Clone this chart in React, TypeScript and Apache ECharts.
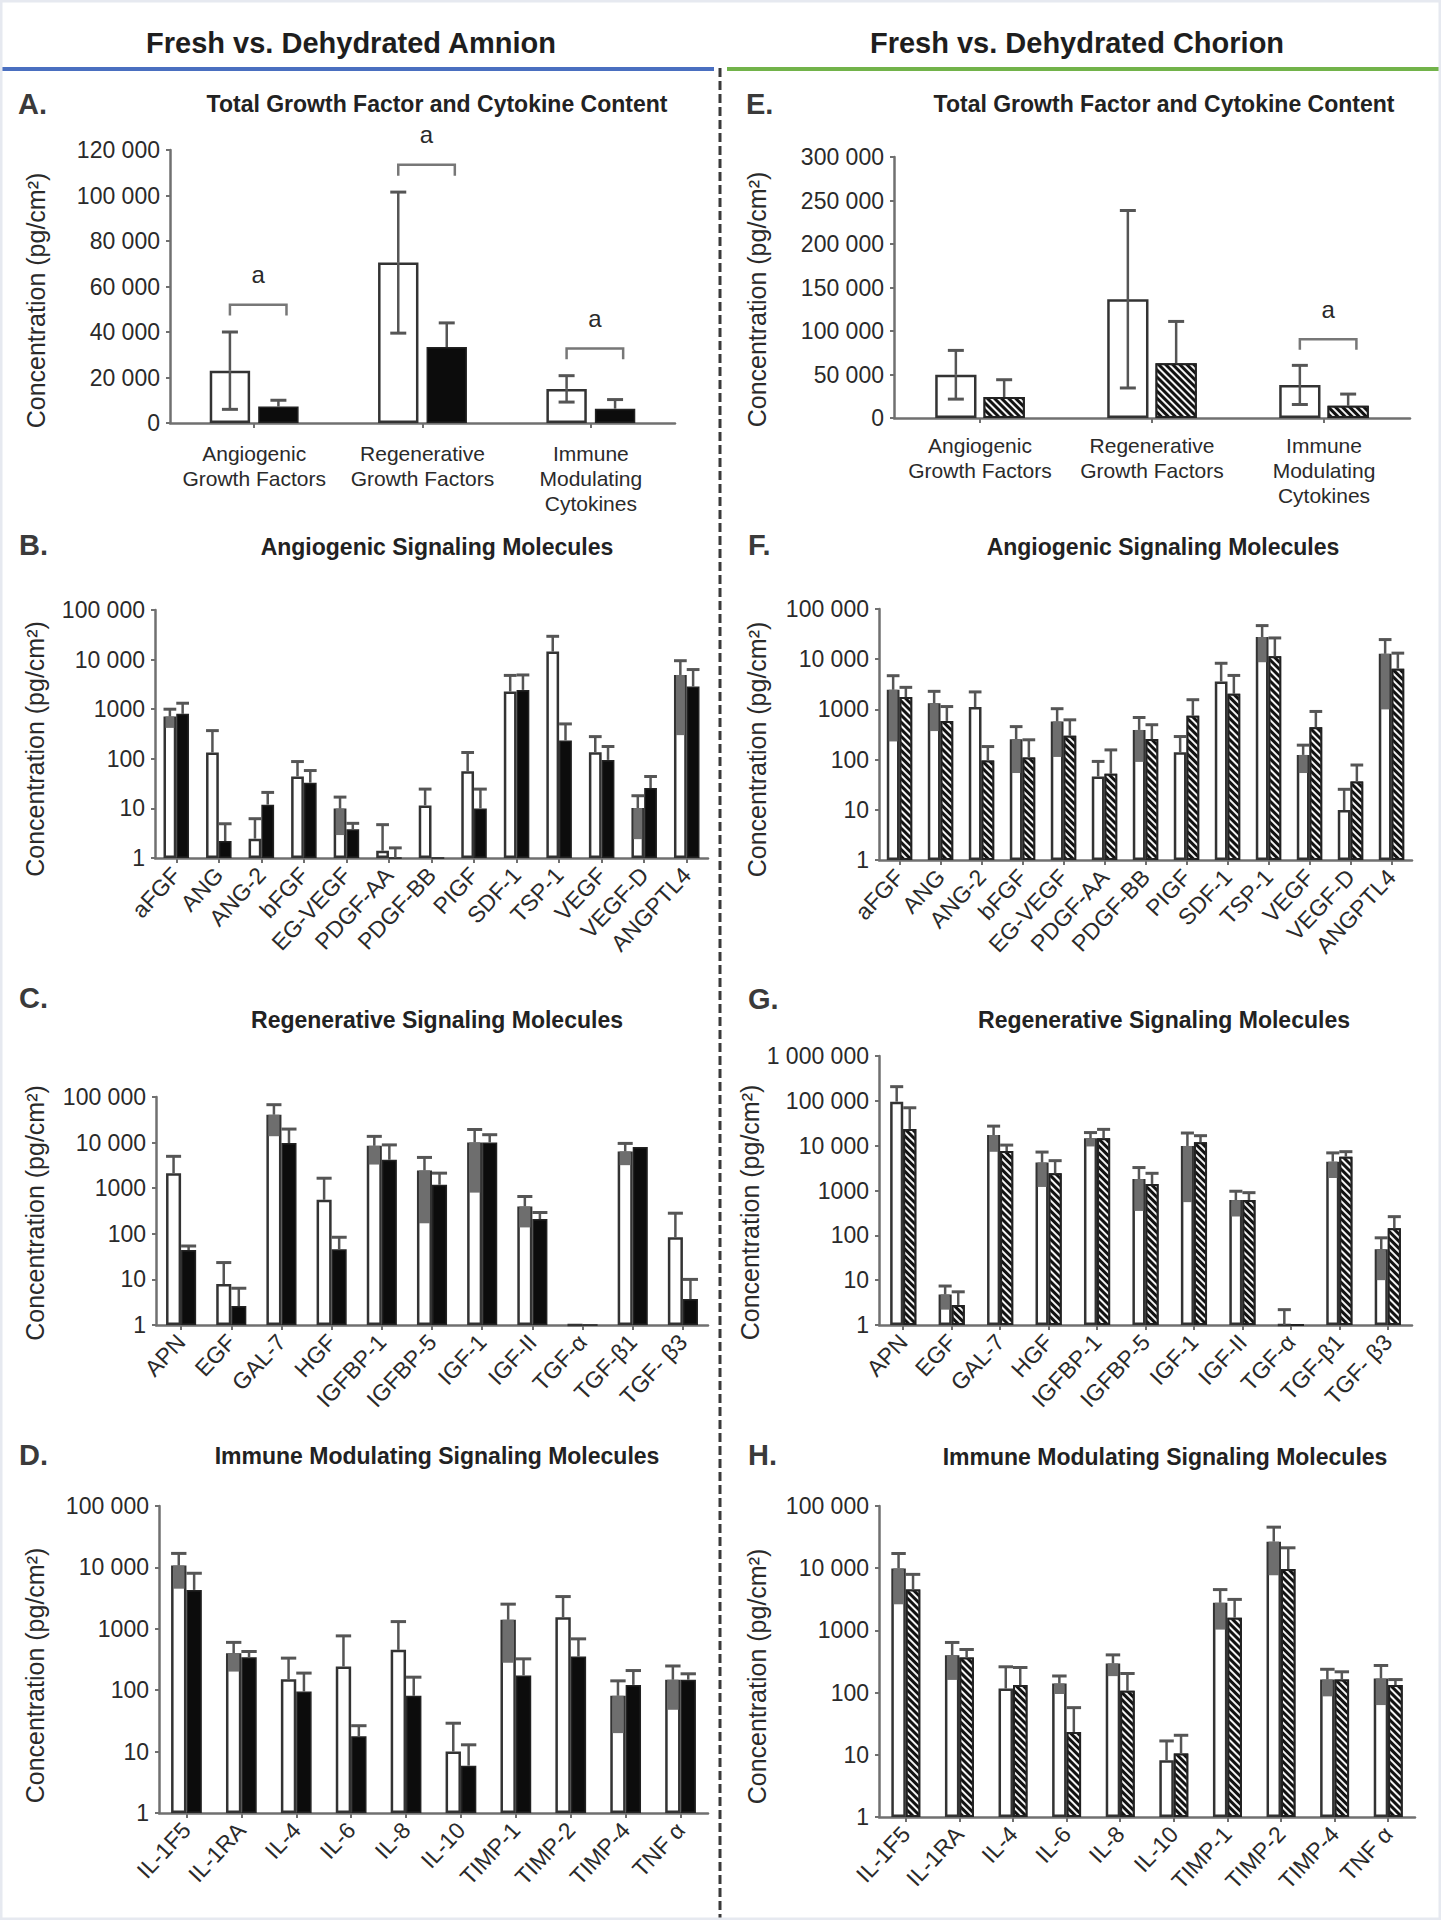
import React, { useEffect, useRef } from "react";
import * as echarts from "echarts";

// ---------------- DATA ----------------
const totalCategories = ["Angiogenic\nGrowth Factors", "Regenerative\nGrowth Factors", "Immune\nModulating\nCytokines"];

const amnionTotalFresh = [23000, 70500, 15000];
const amnionTotalFreshSd = [17000, 31000, 5800];
const amnionTotalDehydrated = [7200, 33400, 6300];
const amnionTotalDehydratedSd = [2800, 10600, 4000];
const amnionTotalSignificant = [true, true, true];

const chorionTotalFresh = [49700, 136500, 38000];
const chorionTotalFreshSd = [28000, 102000, 22500];
const chorionTotalDehydrated = [24000, 63000, 14000];
const chorionTotalDehydratedSd = [20000, 48000, 13500];
const chorionTotalSignificant = [false, false, true];

const angiogenicCategories = ["aFGF", "ANG", "ANG-2", "bFGF", "EG-VEGF", "PDGF-AA", "PDGF-BB", "PIGF", "SDF-1", "TSP-1", "VEGF", "VEGF-D", "ANGPTL4"];
const amnionAngioFresh = [710, 134, 2.45, 44, 9.9, 1.4, 11.5, 56, 2270, 14500, 136, 10.2, 4900];
const amnionAngioFreshSd = [290, 236, 3.75, 44, 7, 3.3, 13, 78, 2530, 15000, 144, 7.8, 4600];
const amnionAngioDehydrated = [805, 2.2, 11.9, 33, 3.8, 1.0, 1.0, 10, 2450, 234, 95, 25.7, 2860];
const amnionAngioDehydratedSd = [515, 2.7, 9.1, 25, 1.2, 0.6, 0, 14.5, 2450, 271, 82, 18.3, 3440];

const chorionAngioFresh = [2460, 1330, 1110, 254, 573, 46, 390, 140, 3600, 27700, 124, 9.9, 12800];
const chorionAngioFreshSd = [2230, 960, 1120, 200, 460, 46, 300, 148, 4700, 19000, 70, 15.7, 11800];
const chorionAngioDehydrated = [1760, 590, 96, 110, 297, 52, 256, 745, 2040, 11400, 443, 36.5, 6450];
const chorionAngioDehydratedSd = [990, 550, 86, 138, 323, 104, 239, 815, 2710, 15100, 467, 41.5, 6750];

const regenerativeCategories = ["APN", "EGF", "GAL-7", "HGF", "IGFBP-1", "IGFBP-5", "IGF-1", "IGF-II", "TGF-α", "TGF-β1", "TGF- β3"];
const amnionRegenFresh = [2140, 7.9, 40800, 556, 8500, 2450, 10100, 398, 1, 6400, 84];
const amnionRegenFreshSd = [2860, 15.5, 27000, 1100, 5200, 2280, 9300, 260, 0, 3200, 199];
const amnionRegenDehydrated = [44, 2.6, 9800, 46, 4200, 1190, 10100, 210, 1, 8000, 3.7];
const amnionRegenDehydratedSd = [10, 3.8, 10000, 38, 4700, 950, 4800, 83, 0, 0, 6.3];

const chorionRegenFresh = [95700, 4.8, 17300, 4200, 14600, 1800, 9850, 613, 1, 4400, 49];
const chorionRegenFreshSd = [111300, 2.6, 10000, 3000, 5000, 1450, 9300, 350, 1.2, 2500, 39];
const chorionRegenDehydrated = [23600, 2.8, 7600, 2420, 14600, 1400, 11900, 613, 1, 5690, 143];
const chorionRegenDehydratedSd = [46400, 2.7, 2700, 2210, 8500, 1020, 4800, 282, 0, 1660, 118];

const immuneCategories = ["IL-1F5", "IL-1RA", "IL-4", "IL-6", "IL-8", "IL-10", "TIMP-1", "TIMP-2", "TIMP-4", "TNF α"];
const amnionImmuneFresh = [10700, 401, 151, 243, 454, 10, 1400, 1540, 81, 148];
const amnionImmuneFreshSd = [6200, 200, 182, 524, 856, 19, 1120, 1810, 61, 100];
const amnionImmuneDehydrated = [4300, 345, 95, 17.7, 81, 5.9, 174, 353, 122, 148];
const amnionImmuneDehydratedSd = [3730, 82, 95, 8.7, 82, 7, 150, 333, 87, 37];

const chorionImmuneFresh = [9930, 400, 116, 140, 294, 8.2, 2780, 26700, 162, 168];
const chorionImmuneFreshSd = [7300, 240, 144, 45, 110, 8.5, 1750, 19000, 75, 105];
const chorionImmuneDehydrated = [4550, 367, 132, 23.3, 107, 10.5, 1600, 9680, 162, 132];
const chorionImmuneDehydratedSd = [3410, 126, 121, 34, 96, 10.1, 1550, 11600, 54, 30];

const headerTexts = ["Fresh vs. Dehydrated Amnion", "Fresh vs. Dehydrated Chorion"];
const panelTitles = [
  "Total Growth Factor and Cytokine Content",
  "Angiogenic Signaling Molecules",
  "Regenerative Signaling Molecules",
  "Immune Modulating Signaling Molecules",
];
const yAxisTitle = "Concentration (pg/cm²)";

// ---------------- STYLE ----------------
const SANS = "'Liberation Sans', Arial, 'Helvetica Neue', sans-serif";
const TXT = "#2a2a2a";
const AXIS = "#707070";
const EDGE = "#333333";
const ERR = "#555555";

const HATCH = {
  symbol: "rect",
  symbolSize: 1,
  color: "rgba(255,255,255,0.95)",
  dashArrayX: [1, 0],
  dashArrayY: [2, 3],
  rotation: Math.PI / 4,
};

type Panel = {
  letter: string;
  title: string;
  titleX: number;
  titleY: number;
  letterX: number;
  letterY: number;
  left: number;
  top: number;
  width: number;
  height: number;
  cats: string[];
  fresh: number[];
  freshSd: number[];
  dehyd: number[];
  dehydSd: number[];
  log: boolean;
  max: number;
  interval?: number;
  decades?: number;
  hatched: boolean;
  barPct: number;
  gapPct: number;
  nameGap: number;
  nameShift: number;
  catMargin: number;
  sig?: boolean[];
};

const panels: Panel[] = [
  {
    letter: "A.", title: panelTitles[0], titleX: 437, titleY: 104, letterX: 18, letterY: 104,
    left: 170, top: 150, width: 505, height: 273,
    cats: totalCategories, fresh: amnionTotalFresh, freshSd: amnionTotalFreshSd,
    dehyd: amnionTotalDehydrated, dehydSd: amnionTotalDehydratedSd,
    log: false, max: 120000, interval: 20000, hatched: false, barPct: 24, gapPct: 20,
    nameGap: 122, nameShift: 14, catMargin: 18, sig: amnionTotalSignificant,
  },
  {
    letter: "E.", title: panelTitles[0], titleX: 1164, titleY: 104, letterX: 746, letterY: 104,
    left: 894, top: 157, width: 516, height: 261,
    cats: totalCategories, fresh: chorionTotalFresh, freshSd: chorionTotalFreshSd,
    dehyd: chorionTotalDehydrated, dehydSd: chorionTotalDehydratedSd,
    log: false, max: 300000, interval: 50000, hatched: true, barPct: 24, gapPct: 17,
    nameGap: 125, nameShift: 12, catMargin: 15, sig: chorionTotalSignificant,
  },
  {
    letter: "B.", title: panelTitles[1], titleX: 437, titleY: 547, letterX: 19, letterY: 545,
    left: 155, top: 610, width: 553, height: 248,
    cats: angiogenicCategories, fresh: amnionAngioFresh, freshSd: amnionAngioFreshSd,
    dehyd: amnionAngioDehydrated, dehydSd: amnionAngioDehydratedSd,
    log: true, max: 1e5, decades: 5, hatched: false, barPct: 30, gapPct: 0,
    nameGap: 108, nameShift: 15, catMargin: 13,
  },
  {
    letter: "F.", title: panelTitles[1], titleX: 1163, titleY: 547, letterX: 748, letterY: 545,
    left: 879, top: 609, width: 533, height: 251,
    cats: angiogenicCategories, fresh: chorionAngioFresh, freshSd: chorionAngioFreshSd,
    dehyd: chorionAngioDehydrated, dehydSd: chorionAngioDehydratedSd,
    log: true, max: 1e5, decades: 5, hatched: true, barPct: 31, gapPct: 0,
    nameGap: 110, nameShift: 15, catMargin: 13,
  },
  {
    letter: "C.", title: panelTitles[2], titleX: 437, titleY: 1020, letterX: 19, letterY: 998,
    left: 156, top: 1097, width: 552, height: 228,
    cats: regenerativeCategories, fresh: amnionRegenFresh, freshSd: amnionRegenFreshSd,
    dehyd: amnionRegenDehydrated, dehydSd: amnionRegenDehydratedSd,
    log: true, max: 1e5, decades: 5, hatched: false, barPct: 30, gapPct: 0,
    nameGap: 109, nameShift: 2, catMargin: 13,
  },
  {
    letter: "G.", title: panelTitles[2], titleX: 1164, titleY: 1020, letterX: 748, letterY: 999,
    left: 879, top: 1056, width: 533, height: 269,
    cats: regenerativeCategories, fresh: chorionRegenFresh, freshSd: chorionRegenFreshSd,
    dehyd: chorionRegenDehydrated, dehydSd: chorionRegenDehydratedSd,
    log: true, max: 1e6, decades: 6, hatched: true, barPct: 27, gapPct: 0,
    nameGap: 110, nameShift: 22, catMargin: 13,
  },
  {
    letter: "D.", title: panelTitles[3], titleX: 437, titleY: 1456, letterX: 19, letterY: 1455,
    left: 159, top: 1506, width: 549, height: 307,
    cats: immuneCategories, fresh: amnionImmuneFresh, freshSd: amnionImmuneFreshSd,
    dehyd: amnionImmuneDehydrated, dehydSd: amnionImmuneDehydratedSd,
    log: true, max: 1e5, decades: 5, hatched: false, barPct: 28, gapPct: 0,
    nameGap: 112, nameShift: 16, catMargin: 13,
  },
  {
    letter: "H.", title: panelTitles[3], titleX: 1165, titleY: 1457, letterX: 748, letterY: 1455,
    left: 879, top: 1506, width: 536, height: 311,
    cats: immuneCategories, fresh: chorionImmuneFresh, freshSd: chorionImmuneFreshSd,
    dehyd: chorionImmuneDehydrated, dehydSd: chorionImmuneDehydratedSd,
    log: true, max: 1e5, decades: 5, hatched: true, barPct: 27, gapPct: 0,
    nameGap: 110, nameShift: 15, catMargin: 13,
  },
];

function fmtTick(v: number): string {
  const n = Math.round(v);
  if (n < 10000) return String(n);
  return String(n).replace(/\B(?=(\d{3})+(?!\d))/g, " ");
}

function barGeom(api: any, p: Panel, which: number) {
  const band = api.size([1, 0])[0];
  const bw = (band * p.barPct) / 100;
  const off = ((bw + (bw * p.gapPct) / 100) / 2) * (which === 0 ? -1 : 1);
  return { bw, off };
}

function errorSeries(p: Panel, i: number, which: number) {
  const vals = which === 0 ? p.fresh : p.dehyd;
  const sds = which === 0 ? p.freshSd : p.dehydSd;
  return {
    type: "custom",
    xAxisIndex: i,
    yAxisIndex: i,
    silent: true,
    z: 5,
    encode: { x: 0, y: 1 },
    data: vals.map((v, k) => [k, v, sds[k]]),
    renderItem: (_params: any, api: any) => {
      const idx = api.value(0);
      const mean = api.value(1);
      const sd = api.value(2);
      const { bw, off } = barGeom(api, p, which);
      const topPt = api.coord([idx, mean]);
      const x = topPt[0] + off;
      const children: any[] = [];
      if (sd > 0) {
        const hi = api.coord([idx, mean + sd])[1];
        const cap = Math.min(bw, 16) / 2;
        children.push({
          type: "line",
          shape: { x1: x, y1: topPt[1], x2: x, y2: hi },
          style: { stroke: ERR, lineWidth: 2.5 },
        });
        children.push({
          type: "line",
          shape: { x1: x - cap, y1: hi, x2: x + cap, y2: hi },
          style: { stroke: ERR, lineWidth: 3 },
        });
        const low = mean - sd;
        if (which === 0 && low > 0) {
          const lowV = p.log ? Math.max(low, 1) : low;
          const lowY = api.coord([idx, lowV])[1];
          if (p.log) {
            children.push({
              type: "rect",
              shape: { x: x - (bw - 4) / 2, y: topPt[1], width: bw - 4, height: lowY - topPt[1] },
              style: { fill: "#6e6e6e" },
            });
          } else {
            children.push({
              type: "line",
              shape: { x1: x, y1: topPt[1], x2: x, y2: lowY },
              style: { stroke: ERR, lineWidth: 2.5 },
            });
            children.push({
              type: "line",
              shape: { x1: x - 8, y1: lowY, x2: x + 8, y2: lowY },
              style: { stroke: ERR, lineWidth: 3 },
            });
          }
        }
      }
      return { type: "group", children };
    },
  };
}

function bracketSeries(p: Panel, i: number) {
  const data: number[][] = [];
  (p.sig || []).forEach((s, k) => {
    if (!s) return;
    const top = Math.max(p.fresh[k] + p.freshSd[k], p.dehyd[k] + p.dehydSd[k]);
    const yb = top + 0.1 * p.max;
    data.push([k, yb, yb - 0.04 * p.max]);
  });
  return {
    type: "custom",
    xAxisIndex: i,
    yAxisIndex: i,
    silent: true,
    z: 6,
    encode: { x: 0, y: 1 },
    data,
    renderItem: (_params: any, api: any) => {
      const idx = api.value(0);
      const b = api.coord([idx, api.value(1)]);
      const l = api.coord([idx, api.value(2)]);
      const g = barGeom(api, p, 1);
      const x1 = b[0] - g.off;
      const x2 = b[0] + g.off + 0.2 * g.bw;
      return {
        type: "group",
        children: [
          {
            type: "polyline",
            shape: { points: [[x1, l[1]], [x1, b[1]], [x2, b[1]], [x2, l[1]]] },
            style: { stroke: "#777", lineWidth: 2.5, fill: "none" },
          },
          {
            type: "text",
            style: {
              text: "a",
              x: (x1 + x2) / 2,
              y: b[1] - 30,
              fill: TXT,
              font: `24px ${SANS}`,
              align: "center",
              verticalAlign: "middle",
            },
          },
        ],
      };
    },
  };
}

function buildOption() {
  const grid: any[] = [];
  const xAxis: any[] = [];
  const yAxis: any[] = [];
  const series: any[] = [];
  const graphic: any[] = [];

  panels.forEach((p, i) => {
    grid.push({ left: p.left, top: p.top, width: p.width, height: p.height, containLabel: false });
    xAxis.push({
      type: "category",
      gridIndex: i,
      data: p.cats,
      axisLine: { show: true, lineStyle: { color: AXIS, width: 2.5 } },
      axisTick: { show: true, alignWithLabel: true, length: 5, lineStyle: { color: AXIS, width: 2 } },
      axisLabel: p.log
        ? { interval: 0, rotate: 47, margin: p.catMargin, fontSize: 23, color: TXT, fontFamily: SANS }
        : { interval: 0, margin: p.catMargin, fontSize: 21, lineHeight: 25, color: TXT, fontFamily: SANS },
      splitLine: { show: false },
    });
    yAxis.push({
      type: p.log ? "log" : "value",
      logBase: 10,
      gridIndex: i,
      min: p.log ? 1 : 0,
      max: p.max,
      interval: p.log ? undefined : p.interval,
      splitNumber: p.log ? p.decades : undefined,
      name: yAxisTitle,
      nameLocation: "middle",
      nameGap: p.nameGap,
      nameTextStyle: { fontSize: 25, color: TXT, fontFamily: SANS, padding: [0, 2 * p.nameShift, 0, 0] },
      axisLine: { show: true, lineStyle: { color: AXIS, width: 2.5 } },
      axisTick: { show: true, length: 4, lineStyle: { color: AXIS, width: 2 } },
      axisLabel: { formatter: fmtTick, fontSize: 23, margin: 10, color: TXT, fontFamily: SANS },
      splitLine: { show: false },
    });
    series.push({
      type: "bar",
      name: "Fresh",
      xAxisIndex: i,
      yAxisIndex: i,
      data: p.fresh,
      barWidth: p.barPct + "%",
      barGap: p.gapPct + "%",
      silent: true,
      itemStyle: { color: "#ffffff", borderColor: EDGE, borderWidth: 2.5 },
    });
    series.push({
      type: "bar",
      name: "Dehydrated",
      xAxisIndex: i,
      yAxisIndex: i,
      data: p.dehyd,
      barWidth: p.barPct + "%",
      barGap: p.gapPct + "%",
      silent: true,
      itemStyle: p.hatched
        ? { color: "#111111", borderColor: "#222", borderWidth: 2, decal: HATCH }
        : { color: "#0c0c0c", borderColor: "#222", borderWidth: 1.5 },
    });
    series.push(errorSeries(p, i, 0));
    series.push(errorSeries(p, i, 1));
    if (p.sig) series.push(bracketSeries(p, i));

    graphic.push({
      type: "text",
      x: p.titleX,
      y: p.titleY,
      style: { text: p.title, fill: "#222", font: `bold 23px ${SANS}`, textAlign: "center", textVerticalAlign: "middle" },
    });
    graphic.push({
      type: "text",
      x: p.letterX,
      y: p.letterY,
      style: { text: p.letter, fill: "#3a3a3a", font: `bold 29px ${SANS}`, textAlign: "left", textVerticalAlign: "middle" },
    });
  });

  graphic.push(
    {
      type: "text",
      x: 351,
      y: 43,
      style: { text: headerTexts[0], fill: "#1e1e1e", font: `bold 29px ${SANS}`, textAlign: "center", textVerticalAlign: "middle" },
    },
    {
      type: "text",
      x: 1077,
      y: 43,
      style: { text: headerTexts[1], fill: "#1e1e1e", font: `bold 29px ${SANS}`, textAlign: "center", textVerticalAlign: "middle" },
    },
    { type: "line", shape: { x1: 0, y1: 69, x2: 714, y2: 69 }, style: { stroke: "#4a6fc0", lineWidth: 4 } },
    { type: "line", shape: { x1: 727, y1: 69, x2: 1441, y2: 69 }, style: { stroke: "#72b34a", lineWidth: 4 } },
    {
      type: "line",
      shape: { x1: 720, y1: 68, x2: 720, y2: 1920 },
      style: { stroke: "#3a3a3a", lineWidth: 3, lineDash: [9, 4] },
    },
    {
      type: "rect",
      shape: { x: 1, y: 1, width: 1439, height: 1918 },
      style: { fill: "none", stroke: "#e6e9f0", lineWidth: 3 },
      silent: true,
    }
  );

  return {
    animation: false,
    backgroundColor: "#ffffff",
    grid,
    xAxis,
    yAxis,
    series,
    graphic,
  };
}

export default function App() {
  const ref = useRef<HTMLDivElement>(null);
  useEffect(() => {
    if (!ref.current) return;
    const chart = echarts.init(ref.current, undefined, { renderer: "svg", width: 1441, height: 1920 });
    chart.setOption(buildOption() as any);
    return () => chart.dispose();
  }, []);
  return (
    <div
      ref={ref}
      style={{ position: "absolute", left: 0, top: 0, width: 1441, height: 1920, background: "#fff" }}
    />
  );
}
